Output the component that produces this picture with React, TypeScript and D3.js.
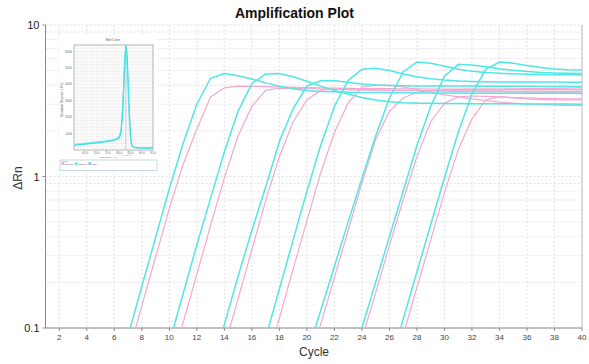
import React from 'react';
import * as d3 from 'd3';

// amplification curves: first cycle + ΔRn per cycle up to 40
const cyanCurves = [
  { start: 7, values: [0.089, 0.188, 0.395, 0.83, 1.65, 3.0, 4.45, 4.78, 4.62, 4.4, 4.15, 3.95, 3.8, 3.68, 3.64, 3.62, 3.6, 3.59, 3.58, 3.58, 3.57, 3.57, 3.56, 3.56, 3.56, 3.55, 3.55, 3.55, 3.55, 3.54, 3.54, 3.54, 3.54, 3.53] },
  { start: 10, values: [0.08, 0.168, 0.353, 0.72, 1.45, 2.7, 4.1, 4.75, 4.78, 4.55, 4.25, 3.95, 3.7, 3.5, 3.32, 3.2, 3.12, 3.07, 3.05, 3.04, 3.03, 3.03, 3.02, 3.02, 3.02, 3.02, 3.01, 3.01, 3.01, 3.01, 3.0] },
  { start: 13, values: [0.05, 0.105, 0.22, 0.44, 0.85, 1.7, 2.8, 3.95, 4.28, 4.3, 4.18, 4.08, 4.02, 3.99, 3.97, 3.96, 3.96, 3.95, 3.95, 3.95, 3.94, 3.94, 3.94, 3.94, 3.93, 3.93, 3.93, 3.93] },
  { start: 17, values: [0.086, 0.181, 0.38, 0.8, 1.6, 2.9, 4.3, 5.1, 5.18, 5.0, 4.75, 4.55, 4.42, 4.33, 4.27, 4.24, 4.22, 4.21, 4.21, 4.2, 4.2, 4.2, 4.19, 4.19] },
  { start: 20, values: [0.067, 0.13, 0.255, 0.5, 0.97, 1.85, 3.3, 4.9, 5.7, 5.6, 5.35, 5.1, 4.95, 4.85, 4.8, 4.76, 4.73, 4.71, 4.7, 4.69, 4.68] },
  { start: 23, values: [0.05, 0.1, 0.2, 0.4, 0.8, 1.6, 2.9, 4.6, 5.5, 5.45, 5.3, 5.15, 5.02, 4.93, 4.86, 4.82, 4.8, 4.78] },
  { start: 26, values: [0.055, 0.114, 0.235, 0.48, 0.98, 1.95, 3.5, 5.1, 5.7, 5.6, 5.4, 5.25, 5.12, 5.07, 5.05] },
];

const pinkCurves = [
  { start: 7, values: [0.066, 0.14, 0.293, 0.616, 1.2, 2.05, 3.35, 3.85, 3.95, 3.94, 3.92, 3.9, 3.88, 3.86, 3.84, 3.83, 3.82, 3.81, 3.8, 3.8, 3.79, 3.79, 3.78, 3.78, 3.77, 3.77, 3.77, 3.76, 3.76, 3.76, 3.75, 3.75, 3.75, 3.75] },
  { start: 10, values: [0.051, 0.108, 0.226, 0.475, 0.98, 1.85, 2.9, 3.7, 3.83, 3.82, 3.8, 3.78, 3.76, 3.74, 3.73, 3.72, 3.71, 3.7, 3.7, 3.69, 3.69, 3.68, 3.68, 3.67, 3.67, 3.66, 3.66, 3.66, 3.65, 3.65, 3.65] },
  { start: 14, values: [0.074, 0.156, 0.328, 0.69, 1.35, 2.3, 3.2, 3.7, 3.78, 3.76, 3.74, 3.72, 3.7, 3.69, 3.68, 3.67, 3.66, 3.65, 3.64, 3.63, 3.63, 3.62, 3.62, 3.61, 3.61, 3.6, 3.6] },
  { start: 17, values: [0.055, 0.116, 0.245, 0.51, 1.05, 1.95, 3.05, 3.9, 4.0, 4.0, 3.9, 3.75, 3.6, 3.46, 3.35, 3.25, 3.17, 3.1, 3.05, 3.01, 2.98, 2.96, 2.95, 2.94] },
  { start: 20, values: [0.051, 0.105, 0.215, 0.44, 0.9, 1.75, 2.7, 3.3, 3.6, 3.7, 3.73, 3.75, 3.76, 3.77, 3.78, 3.79, 3.8, 3.81, 3.82, 3.83, 3.84] },
  { start: 24, values: [0.085, 0.17, 0.35, 0.7, 1.35, 2.3, 3.05, 3.35, 3.4, 3.38, 3.35, 3.32, 3.3, 3.28, 3.27, 3.26, 3.25] },
  { start: 27, values: [0.09, 0.185, 0.38, 0.78, 1.5, 2.4, 3.2, 3.37, 3.3, 3.25, 3.22, 3.2, 3.2, 3.2] },
];

const xTicks = [2, 4, 6, 8, 10, 12, 14, 16, 18, 20, 22, 24, 26, 28, 30, 32, 34, 36, 38, 40];
const yTickLabels = [0.1, 1, 10];

// melt curve inset
const meltTemps = [60, 62, 64, 66, 68, 70, 72, 74, 76, 78, 79, 80, 80.5, 81, 81.5, 82, 82.5, 83, 83.5, 84, 84.5, 85, 85.5, 86, 87, 88, 90, 92, 95];
const meltCyanA = [0.028, 0.031, 0.034, 0.037, 0.04, 0.043, 0.046, 0.05, 0.054, 0.06, 0.065, 0.075, 0.09, 0.13, 0.22, 0.36, 0.52, 0.64, 0.58, 0.42, 0.24, 0.1, 0.04, 0.022, 0.016, 0.014, 0.013, 0.013, 0.013];
const meltCyanB = [0.034, 0.037, 0.04, 0.043, 0.046, 0.049, 0.052, 0.056, 0.06, 0.066, 0.072, 0.085, 0.105, 0.15, 0.25, 0.4, 0.56, 0.62, 0.52, 0.36, 0.19, 0.08, 0.034, 0.02, 0.015, 0.013, 0.012, 0.012, 0.012];
const meltPink = [0.03, 0.033, 0.036, 0.039, 0.042, 0.045, 0.048, 0.052, 0.056, 0.062, 0.068, 0.08, 0.1, 0.14, 0.24, 0.38, 0.54, 0.62, 0.55, 0.39, 0.21, 0.09, 0.036, 0.021, 0.015, 0.013, 0.012, 0.012, 0.012];
const meltXTicks = [65, 70, 75, 80, 85, 90, 95];
const meltYTicks = [0.1, 0.2, 0.3, 0.4, 0.5, 0.6];
const legendItems = [
  { label: 'Target 1', color: '#f4a6d0' },
  { label: 'Target 1', color: '#3ff0f0' },
  { label: 'auto', color: '#7fb2ff' },
];

const CYAN = '#4fe6e6';
const PINK = '#f2a8d2';

export default function App() {
  const W = 589;
  const H = 364;
  const left = 45.5, right = 582, top = 25, bottom = 328;

  const x = d3.scaleLinear().domain([1, 40]).range([left, right]);
  const y = d3.scaleLog().domain([0.1, 10]).range([bottom, top]);

  const line = d3.line<[number, number]>()
    .x(d => x(d[0]))
    .y(d => y(d[1]));

  const toPts = (c: { start: number; values: number[] }) =>
    c.values.map((v, i) => [c.start + i, v] as [number, number]);

  const minorY = y.ticks();

  // inset scales
  const mx = d3.scaleLinear().domain([60, 95]).range([74, 153]);
  const my = d3.scaleLinear().domain([0, 0.64]).range([150, 45]);
  const mline = d3.line<number>()
    .x((_, i) => mx(meltTemps[i]))
    .y(d => my(d))
    .curve(d3.curveMonotoneX);
  const gridT = d3.range(60, 96, 1);
  const gridV = d3.range(0, 0.65, 0.02);

  return (
    <svg width={W} height={H} style={{ position: 'absolute', left: 0, top: 0, background: '#fff' }}
      fontFamily="Liberation Sans, Arial, sans-serif">
      <defs>
        <clipPath id="plot">
          <rect x={left} y={top} width={right - left} height={bottom - top} />
        </clipPath>
      </defs>
      <text x={W / 2} y={18} textAnchor="middle" fontSize={14} fontWeight="bold" fill="#111">Amplification Plot</text>

      {/* grid */}
      {xTicks.map(t => (
        <line key={'gx' + t} x1={x(t)} x2={x(t)} y1={top} y2={bottom} stroke="#d9d9d9" strokeDasharray="2,2" strokeWidth={0.8} />
      ))}
      {minorY.map((t, i) => (
        <line key={'gy' + i} x1={left} x2={right} y1={y(t)} y2={y(t)} stroke="#d9d9d9" strokeDasharray="2,2" strokeWidth={0.8} />
      ))}

      {/* axes */}
      <line x1={left} x2={left} y1={top} y2={bottom} stroke="#8a8a8a" />
      <line x1={left} x2={right} y1={bottom} y2={bottom} stroke="#8a8a8a" />
      <line x1={right} x2={right} y1={top} y2={bottom} stroke="#bdbdbd" />
      {xTicks.map(t => (
        <g key={'xt' + t}>
          <line x1={x(t)} x2={x(t)} y1={bottom} y2={bottom + 3} stroke="#8a8a8a" />
          <text x={x(t)} y={bottom + 12} textAnchor="middle" fontSize={8} fill="#444">{t}</text>
        </g>
      ))}
      {yTickLabels.map(t => (
        <g key={'yt' + t}>
          <line x1={left - 3} x2={left} y1={y(t)} y2={y(t)} stroke="#8a8a8a" />
          <text x={left - 6} y={y(t) + 4} textAnchor="end" fontSize={11} fill="#222">{t}</text>
        </g>
      ))}
      <text x={314} y={356} textAnchor="middle" fontSize={12} fill="#333">Cycle</text>
      <text transform="translate(22,178) rotate(-90)" textAnchor="middle" fontSize={12} fill="#333">ΔRn</text>

      {/* curves */}
      <g clipPath="url(#plot)" fill="none">
        {pinkCurves.map((c, i) => (
          <path key={'p' + i} d={line(toPts(c)) || ''} stroke={PINK} strokeWidth={1.2} />
        ))}
        {cyanCurves.map((c, i) => (
          <path key={'c' + i} d={line(toPts(c)) || ''} stroke={CYAN} strokeWidth={1.5} />
        ))}
      </g>

      {/* melt curve inset */}
      <g>
        <rect x={59} y={35} width={99} height={137} fill="#fff" />
        <text x={113} y={41} textAnchor="middle" fontSize={3} fill="#555">Melt Curve</text>
        <rect x={74} y={45} width={79} height={105} fill="#fff" />
        {gridT.map(t => (
          <line key={'mt' + t} x1={mx(t)} x2={mx(t)} y1={45} y2={150} stroke="#e4e4e4" strokeWidth={0.4} />
        ))}
        {gridV.map((v, i) => (
          <line key={'mv' + i} x1={74} x2={153} y1={my(v)} y2={my(v)} stroke="#e4e4e4" strokeWidth={0.4} />
        ))}
        <rect x={74} y={45} width={79} height={105} fill="none" stroke="#a8a8a8" strokeWidth={0.8} />
        <line x1={mx(83)} x2={mx(83)} y1={45} y2={150} stroke="#9bb0c8" strokeWidth={0.6} />
        {meltXTicks.map(t => (
          <text key={'mxl' + t} x={mx(t)} y={153.5} textAnchor="middle" fontSize={3} fill="#666">{t.toFixed(1)}</text>
        ))}
        {meltYTicks.map(t => (
          <text key={'myl' + t} x={72} y={my(t) + 1} textAnchor="end" fontSize={3} fill="#666">{(t * 10000).toFixed(0)}</text>
        ))}
        <text x={108} y={158} textAnchor="middle" fontSize={2.2} fill="#666">Temperature (°C)</text>
        <text x={126} y={155.5} textAnchor="middle" fontSize={2.2} fill="#5a8ad8">Tm: 82.97</text>
        <text transform="translate(63,100) rotate(-90)" textAnchor="middle" fontSize={3} fill="#666">Derivative Reporter (-Rn')</text>
        <g fill="none">
          <path d={mline(meltPink) || ''} stroke="#f4b0d6" strokeWidth={1} />
          <path d={mline(meltCyanB) || ''} stroke="#7aeeee" strokeWidth={1.2} />
          <path d={mline(meltCyanA) || ''} stroke="#3fe2e2" strokeWidth={1.2} />
        </g>
        <rect x={60} y={160} width={97} height={10.5} fill="#fff" stroke="#b9cde0" strokeWidth={0.8} />
        <text x={61.5} y={161.8} fontSize={2} fill="#888">Legend</text>
        {legendItems.map((it, i) => (
          <g key={'lg' + i}>
            <rect x={61.5 + i * 13.5} y={162.3} width={2.6} height={2.6} fill={it.color} />
            <text x={64.8 + i * 13.5} y={164.6} fontSize={2.5} fill="#555">{it.label}</text>
          </g>
        ))}
      </g>
    </svg>
  );
}
